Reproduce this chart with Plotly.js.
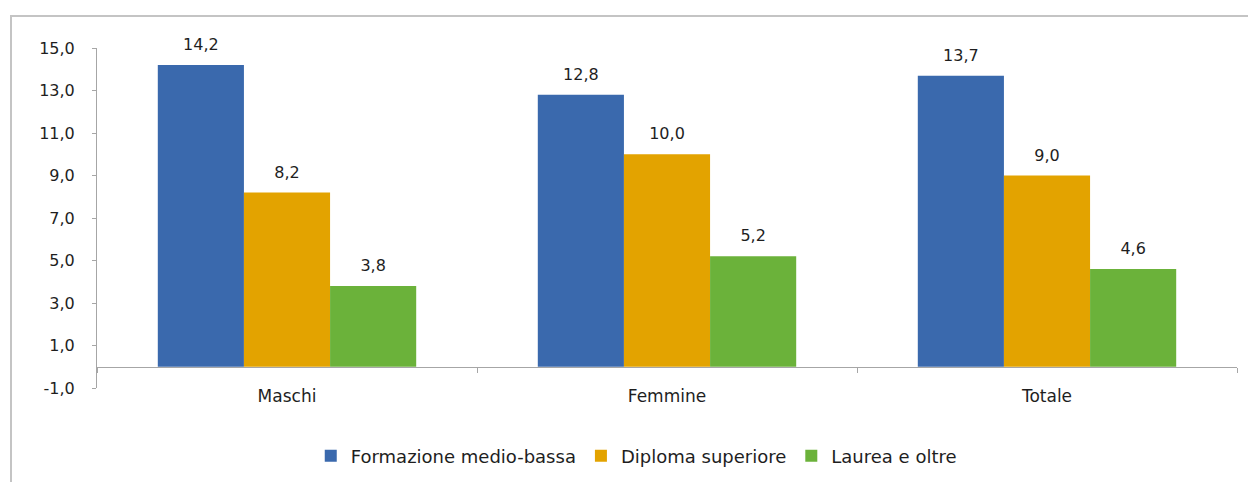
<!DOCTYPE html>
<html>
<head>
<meta charset="utf-8">
<script src="https://cdn.plot.ly/plotly-3.0.1.min.js"></script>
<style>
  html, body { margin: 0; padding: 0; background: #fff; }
  #wrap { position: relative; width: 1248px; height: 482px; overflow: hidden; }
  #chart { position: absolute; left: 0; top: 0; width: 1248px; height: 482px; }
  #frame { position: absolute; left: 10px; top: 15px; width: 1250px; height: 480px;
           border-left: 2px solid #c4c4c4; border-top: 2px solid #c4c4c4; pointer-events: none; }
</style>
</head>
<body>
<div id="wrap">
  <div id="chart"></div>
  <div id="frame"></div>
</div>
<script>
const categories = ['Maschi', 'Femmine', 'Totale'];
const seriesNames = ['Formazione medio-bassa', 'Diploma superiore', 'Laurea e oltre'];
const formazioneMedioBassa = [14.2, 12.8, 13.7];
const diplomaSuperiore = [8.2, 10.0, 9.0];
const laureaEOltre = [3.8, 5.2, 4.6];
const yTickValues = [-1, 1, 3, 5, 7, 9, 11, 13, 15];

const colors = ['#3a69ad', '#e3a300', '#6bb23a'];
const seriesValues = [formazioneMedioBassa, diplomaSuperiore, laureaEOltre];
const fmt = v => v.toFixed(1).replace('.', ',');

const FONT = 'DejaVu Sans, Verdana, sans-serif';
const TXT = '#1e1e1e';

const barTraces = seriesValues.map((vals, i) => ({
  type: 'bar',
  name: seriesNames[i],
  x: categories,
  y: vals,
  offsetgroup: String(i),
  marker: { color: colors[i], line: { width: 0 } },
  hoverinfo: 'skip'
}));

const labelTraces = seriesValues.map((vals, i) => ({
  type: 'scatter',
  mode: 'markers+text',
  x: categories,
  y: vals,
  offsetgroup: String(i),
  text: vals.map(fmt),
  textposition: 'top center',
  textfont: { family: FONT, size: 16, color: TXT },
  marker: { size: 16, opacity: 0, color: 'rgba(0,0,0,0)' },
  cliponaxis: false,
  showlegend: false,
  hoverinfo: 'skip'
}));

const layout = {
  width: 1248,
  height: 482,
  margin: { l: 97, r: 11, t: 48, b: 94, autoexpand: false },
  paper_bgcolor: '#fff',
  plot_bgcolor: 'rgba(0,0,0,0)',
  separators: ',.',
  barmode: 'group',
  bargap: 0.32,
  bargroupgap: 0,
  scattermode: 'group',
  scattergap: 0.32,
  showlegend: true,
  font: { family: FONT, size: 16, color: TXT },
  legend: {
    orientation: 'h',
    xref: 'container', yref: 'container',
    x: 0.249, xanchor: 'left',
    y: 0.054, yanchor: 'middle',
    font: { family: FONT, size: 18, color: TXT },
    itemwidth: 30,
    traceorder: 'normal'
  },
  xaxis: {
    type: 'category',
    anchor: 'free',
    position: 0.0625,
    showline: true,
    linecolor: '#a6a6a6',
    linewidth: 1,
    ticks: 'outside',
    tickson: 'boundaries',
    ticklen: 5,
    tickcolor: '#a6a6a6',
    ticklabelstandoff: 14,
    showgrid: false,
    zeroline: false,
    tickfont: { family: FONT, size: 17, color: TXT }
  },
  yaxis: {
    range: [-1, 15],
    tickmode: 'array',
    tickvals: yTickValues,
    ticktext: yTickValues.map(fmt),
    showline: true,
    linecolor: '#a6a6a6',
    linewidth: 1,
    ticks: 'outside',
    ticklen: 4,
    tickcolor: '#a6a6a6',
    ticklabelstandoff: 14,
    showgrid: false,
    zeroline: false,
    tickfont: { family: FONT, size: 16, color: TXT }
  }
};

Plotly.newPlot('chart', barTraces.concat(labelTraces), layout, { displayModeBar: false, staticPlot: true });
</script>
</body>
</html>
